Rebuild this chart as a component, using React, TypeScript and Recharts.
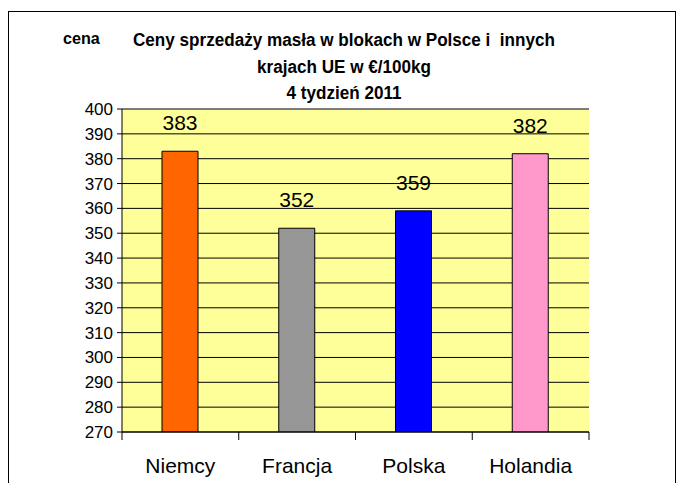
import React from "react";
import { BarChart, Bar, XAxis, YAxis, CartesianGrid, LabelList, Cell } from "recharts";

const countries = ["Niemcy", "Francja", "Polska", "Holandia"];
const prices = [383, 352, 359, 382];
const barColors = ["#FF6600", "#969696", "#0000FF", "#FF99CC"];
const yTicks = [270, 280, 290, 300, 310, 320, 330, 340, 350, 360, 370, 380, 390, 400];

const data = countries.map((name, i) => ({ name, value: prices[i] }));

const font = "'Liberation Sans', Arial, sans-serif";

const CategoryTick = (props: any) => {
  const { x, y, payload, index, visibleTicksCount } = props;
  const half = payload?.offset ?? 58;
  const last = index === (visibleTicksCount ?? countries.length) - 1;
  return (
    <g>
      <line x1={x - half} x2={x - half} y1={y} y2={y + 8} stroke="#000" />
      {last && <line x1={x + half} x2={x + half} y1={y} y2={y + 8} stroke="#000" />}
      <text x={x} y={y + 41} textAnchor="middle" fontSize={21} fontFamily={font} fill="#000">
        {payload.value}
      </text>
    </g>
  );
};

export default function App() {
  return (
    <div style={{ position: "relative", width: 678, height: 483, background: "#fff", overflow: "hidden" }}>
      <style>{"html,body{margin:0;overflow:hidden}"}</style>
      <div
        style={{
          position: "absolute",
          left: 8,
          top: 11,
          width: 668,
          height: 472,
          borderLeft: "1px solid #000",
          borderTop: "1px solid #000",
          borderRight: "1px solid #000",
          boxSizing: "border-box",
        }}
      />
      <div
        style={{
          position: "absolute",
          left: 63,
          top: 29,
          fontFamily: font,
          fontWeight: "bold",
          fontSize: 17,
          color: "#000",
          transform: "scaleX(0.95)",
          transformOrigin: "left center",
        }}
      >
        cena
      </div>
      <div
        style={{
          position: "absolute",
          left: 94,
          width: 500,
          top: 27,
          textAlign: "center",
          fontFamily: font,
          fontWeight: "bold",
          fontSize: 18,
          lineHeight: "26.5px",
          color: "#000",
          transform: "scaleX(0.95)",
          whiteSpace: "nowrap",
        }}
      >
        <div>Ceny sprzedaży masła w blokach w Polsce i&nbsp; innych</div>
        <div>krajach UE w €/100kg</div>
        <div>4 tydzień 2011</div>
      </div>
      <div style={{ position: "absolute", left: 8, top: 8 }}>
        <BarChart
          width={670}
          height={475}
          data={data}
          margin={{ top: 101, right: 89, bottom: 0, left: 54 }}
          barSize={36}
        >
          <CartesianGrid vertical={false} stroke="#000" fill="#FFFF99" fillOpacity={1} />
          <XAxis
            dataKey="name"
            tick={<CategoryTick />}
            tickLine={false}
            tickSize={0}
            tickMargin={0}
            axisLine={{ stroke: "#000" }}
            interval={0}
            height={51}
          />
          <YAxis
            domain={[270, 400]}
            ticks={yTicks}
            interval={0}
            width={60}
            tickSize={5}
            tickMargin={4}
            axisLine={{ stroke: "#000" }}
            tickLine={{ stroke: "#000" }}
            tick={{ fontSize: 17, fontFamily: font, fill: "#000" }}
            allowDataOverflow
          />
          <YAxis
            yAxisId="right"
            orientation="right"
            domain={[270, 400]}
            width={0}
            tick={false}
            tickLine={false}
            axisLine={{ stroke: "#808080" }}
          />
          <Bar dataKey="value" stroke="#000" strokeWidth={1} isAnimationActive={false}>
            {data.map((d, i) => (
              <Cell key={d.name} fill={barColors[i]} />
            ))}
            <LabelList
              dataKey="value"
              position="top"
              offset={21}
              fontSize={21}
              fontFamily={font}
              fill="#000"
            />
          </Bar>
        </BarChart>
      </div>
    </div>
  );
}
